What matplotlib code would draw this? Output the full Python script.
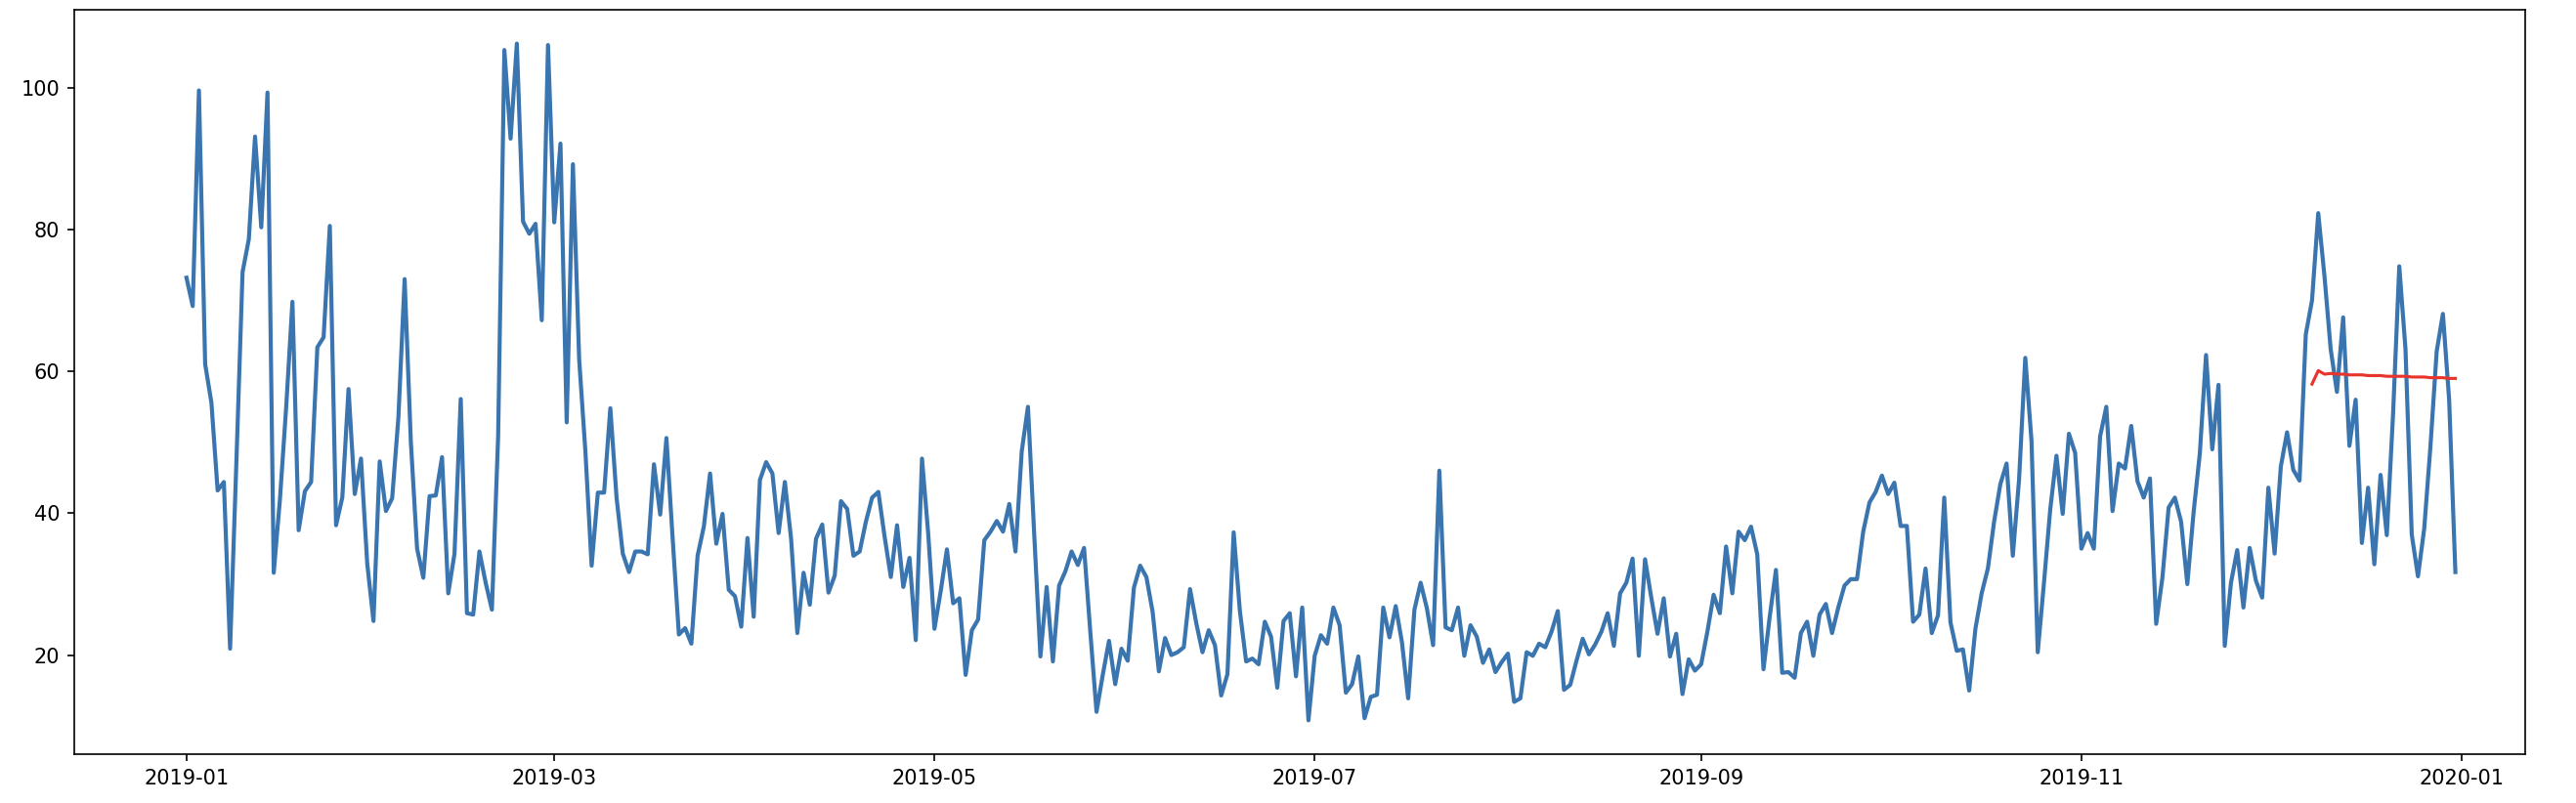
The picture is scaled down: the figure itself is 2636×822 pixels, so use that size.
import numpy as np
import pandas as pd
import matplotlib
matplotlib.use("Agg")
import matplotlib.pyplot as plt
import matplotlib.dates as mdates

start_date = "2019-01-01"
values = [
    73.2, 69.2, 99.6, 61.0, 55.6, 43.2, 44.4, 20.9, 47.0, 74.0,
    78.6, 93.1, 80.3, 99.3, 31.6, 42.0, 55.0, 69.8, 37.6, 43.1,
    44.4, 63.4, 64.8, 80.5, 38.3, 42.2, 57.5, 42.7, 47.7, 32.9,
    24.8, 47.3, 40.3, 42.1, 53.5, 73.0, 50.0, 35.0, 30.9, 42.4,
    42.5, 47.9, 28.7, 34.3, 56.1, 25.9, 25.7, 34.6, 30.2, 26.4,
    50.8, 105.3, 92.8, 106.2, 81.1, 79.4, 80.8, 67.2, 106.0, 81.0,
    92.1, 52.8, 89.2, 61.7, 48.7, 32.6, 42.9, 42.9, 54.8, 42.2,
    34.3, 31.7, 34.6, 34.6, 34.2, 46.9, 39.8, 50.6, 36.4, 22.9,
    23.8, 21.6, 34.0, 38.1, 45.6, 35.7, 39.9, 29.2, 28.3, 24.0,
    36.5, 25.4, 44.7, 47.2, 45.6, 37.2, 44.4, 36.4, 23.1, 31.6,
    27.1, 36.4, 38.4, 28.8, 31.2, 41.7, 40.6, 34.0, 34.6, 38.8,
    42.2, 43.0, 36.7, 31.0, 38.3, 29.6, 33.7, 22.1, 47.7, 37.1,
    23.7, 29.0, 34.9, 27.3, 28.0, 17.2, 23.5, 25.0, 36.2, 37.4,
    38.9, 37.4, 41.3, 34.6, 48.7, 55.0, 37.1, 19.8, 29.6, 19.1,
    29.8, 31.8, 34.6, 32.7, 35.1, 23.3, 12.0, 17.2, 22.0, 15.9,
    20.9, 19.2, 29.5, 32.6, 31.0, 26.1, 17.7, 22.4, 20.0, 20.4,
    21.1, 29.3, 24.5, 20.4, 23.5, 21.4, 14.3, 17.3, 37.3, 26.2,
    19.1, 19.5, 18.7, 24.7, 22.6, 15.4, 24.8, 25.9, 17.0, 26.7,
    10.8, 19.9, 22.8, 21.6, 26.7, 24.2, 14.7, 15.9, 19.8, 11.1,
    14.1, 14.4, 26.7, 22.5, 26.9, 21.8, 13.9, 26.4, 30.2, 26.6,
    21.4, 46.0, 23.9, 23.5, 26.7, 19.9, 24.2, 22.6, 18.9, 20.8,
    17.6, 19.0, 20.2, 13.4, 13.9, 20.4, 19.9, 21.6, 21.1, 23.3,
    26.2, 15.1, 15.8, 19.2, 22.3, 20.1, 21.5, 23.3, 25.9, 21.3,
    28.7, 30.2, 33.6, 19.9, 33.5, 28.1, 23.0, 28.0, 19.8, 23.0,
    14.5, 19.4, 17.8, 18.7, 23.3, 28.5, 25.9, 35.3, 28.7, 37.4,
    36.2, 38.1, 34.2, 18.0, 25.4, 32.0, 17.5, 17.6, 16.8, 23.1,
    24.7, 19.9, 25.7, 27.2, 23.1, 26.7, 29.8, 30.7, 30.7, 37.4,
    41.5, 43.0, 45.3, 42.7, 44.3, 38.2, 38.2, 24.7, 25.7, 32.2,
    23.1, 25.6, 42.2, 24.6, 20.6, 20.8, 15.0, 23.7, 28.7, 32.2,
    38.8, 44.1, 47.0, 34.0, 44.7, 61.9, 50.2, 20.4, 30.2, 40.5,
    48.1, 39.9, 51.2, 48.5, 35.0, 37.2, 35.0, 50.8, 55.0, 40.3,
    47.0, 46.3, 52.3, 44.5, 42.2, 44.9, 24.4, 30.9, 40.8, 42.2,
    38.8, 30.0, 40.1, 48.4, 62.3, 49.0, 58.1, 21.3, 30.2, 34.8,
    26.7, 35.1, 30.5, 28.1, 43.6, 34.3, 46.6, 51.4, 46.1, 44.6,
    65.2, 70.0, 82.3, 73.4, 63.1, 57.1, 67.6, 49.5, 56.0, 35.8,
    43.6, 32.8, 45.4, 36.9, 53.9, 74.8, 63.1, 37.0, 31.1, 37.8,
    49.4, 62.8, 68.1, 56.0, 31.7,
]

forecast_start = "2019-12-08"
forecast = [
    58.2, 60.1, 59.6, 59.7, 59.6, 59.6, 59.5, 59.5, 59.5, 59.4,
    59.4, 59.4, 59.3, 59.3, 59.3, 59.3, 59.2, 59.2, 59.2, 59.1,
    59.1, 59.1, 59.0, 59.0,
]

dates = pd.date_range(start_date, periods=len(values), freq="D")
fdates = pd.date_range(forecast_start, periods=len(forecast), freq="D")

fig = plt.figure(figsize=(2636 / 150, 822 / 150), dpi=150)
ax = fig.add_axes([76 / 2636, 50 / 822, (2584 - 76) / 2636, (772 - 10) / 822])

ax.plot(dates, values, color="#3a75af", lw=2.0)
ax.plot(fdates, forecast, color="#e8352b", lw=1.5)

ax.set_xlim(pd.Timestamp("2019-01-01") - pd.Timedelta(days=18.0),
            pd.Timestamp("2019-12-31") + pd.Timedelta(days=11.2))
ax.xaxis.set_major_locator(mdates.MonthLocator(bymonth=[1, 3, 5, 7, 9, 11]))
ax.xaxis.set_major_formatter(mdates.DateFormatter("%Y-%m"))
ax.set_yticks([20, 40, 60, 80, 100])

fig.savefig("out.png", dpi=150)
